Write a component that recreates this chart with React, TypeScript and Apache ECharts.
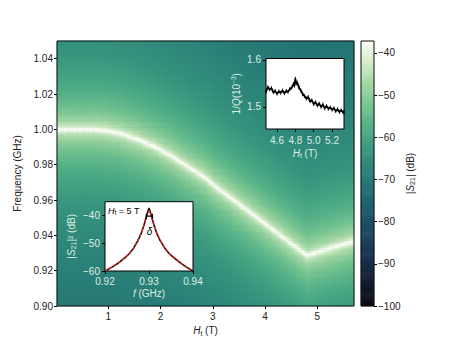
import React, { useEffect, useRef } from "react";
import * as echarts from "echarts";

const curveH = [0.0, 0.4, 0.76, 0.96, 1.27, 1.59, 1.91, 2.23, 2.55, 2.87, 3.05, 3.37, 3.69, 4.01, 4.33, 4.65, 4.81, 4.97, 5.28, 5.7];
const curveF = [1.0, 1.0, 1.0, 0.9994, 0.9975, 0.9941, 0.99, 0.9847, 0.9786, 0.9725, 0.9678, 0.9608, 0.9537, 0.9466, 0.9394, 0.9322, 0.9287, 0.9302, 0.9331, 0.9367];
// narrow core and broad glow of the resonance (half widths in GHz, peak levels in dB)
const coreWidth = 0.0008;
const corePeakDb = -36.8;
const glowWidth = 0.006;
const glowPeakDb = -46.8;
const floorDb = -80;

const hTicks = [1, 2, 3, 4, 5];
const fTicks = [0.9, 0.92, 0.94, 0.96, 0.98, 1.0, 1.02, 1.04];
const cbTicks = [-100, -90, -80, -70, -60, -50, -40];

// inset 1: 1/Q vs H_t
const qH = [4.48, 4.5, 4.52, 4.54, 4.56, 4.58, 4.6, 4.62, 4.64, 4.66, 4.68, 4.7, 4.72, 4.74, 4.76, 4.78, 4.79, 4.8, 4.81, 4.82, 4.84, 4.86, 4.88, 4.9, 4.92, 4.94, 4.96, 4.98, 5.0, 5.02, 5.04, 5.06, 5.08, 5.1, 5.12, 5.14, 5.16, 5.18, 5.2, 5.22, 5.24, 5.26, 5.28, 5.3, 5.32, 5.33];
const qV = [1.532, 1.542, 1.537, 1.54, 1.531, 1.534, 1.528, 1.533, 1.53, 1.535, 1.529, 1.534, 1.532, 1.538, 1.541, 1.549, 1.545, 1.56, 1.55, 1.552, 1.541, 1.535, 1.527, 1.523, 1.518, 1.521, 1.512, 1.514, 1.506, 1.51, 1.503, 1.507, 1.5, 1.505, 1.497, 1.502, 1.496, 1.499, 1.494, 1.497, 1.491, 1.495, 1.489, 1.493, 1.488, 1.49];
const qErr = 0.004;

// inset 2: |S21|^2 vs f at H_t = 5 T
const sF = [0.92, 0.9215, 0.923, 0.9245, 0.9255, 0.9265, 0.9275, 0.9283, 0.9289, 0.9294, 0.9297, 0.93, 0.9303, 0.9306, 0.9311, 0.9317, 0.9325, 0.9336, 0.9346, 0.9357, 0.9372, 0.9386, 0.94];
const sData = [-60.0, -58.7, -57.2, -55.3, -53.8, -51.8, -49.0, -46.2, -43.3, -40.4, -38.8, -37.4, -38.8, -40.4, -43.3, -46.2, -49.0, -51.8, -53.8, -55.3, -57.2, -58.7, -60.0];
const sFit = [-60.0, -58.6, -57.1, -55.2, -53.7, -51.7, -48.9, -46.1, -43.4, -40.7, -39.3, -38.3, -39.3, -40.7, -43.4, -46.1, -48.9, -51.7, -53.7, -55.2, -57.1, -58.6, -60.0];
const deltaF = [0.9294, 0.9308];
const deltaDb = -40.3;

const cmap = ["#0a0a10", "#121b2e", "#182d48", "#1b405c", "#1d5468", "#216a72", "#2a7f78", "#37957e", "#4fad86", "#73c390", "#a0d6a2", "#d2ecc8", "#fbfdf5"];

const H_MIN = 0.02, H_MAX = 5.7, F_MIN = 0.9, F_MAX = 1.05, DB_MIN = -100, DB_MAX = -37.2;
const NX = 130, NY = 150, NCB = 126;
const FONT = "Liberation Sans, Arial, sans-serif";
const LIGHT = "#dcefe2";

function interp(xs: number[], ys: number[], x: number) {
  if (x <= xs[0]) return ys[0];
  for (let i = 1; i < xs.length; i++) {
    if (x <= xs[i]) {
      const t = (x - xs[i - 1]) / (xs[i] - xs[i - 1]);
      return ys[i - 1] + t * (ys[i] - ys[i - 1]);
    }
  }
  return ys[ys.length - 1];
}

function lorAvg(g: number, fa: number, fb: number, f0: number) {
  return (g / (fb - fa)) * (Math.atan((fb - f0) / g) - Math.atan((fa - f0) / g));
}

function buildMap() {
  const dx = (H_MAX - H_MIN) / NX, dy = (F_MAX - F_MIN) / NY;
  const pc = Math.pow(10, corePeakDb / 10), pg = Math.pow(10, glowPeakDb / 10), pfl = Math.pow(10, floorDb / 10);
  const data: number[][] = [];
  for (let i = 0; i < NX; i++) {
    const h = H_MIN + (i + 0.5) * dx;
    const f0 = interp(curveH, curveF, h);
    for (let j = 0; j < NY; j++) {
      const fa = F_MIN + j * dy, fb = fa + dy;
      const p = pc * lorAvg(coreWidth, fa, fb, f0) + pg * lorAvg(glowWidth, fa, fb, f0) + pfl;
      data.push([i, j, Math.min(DB_MAX, 10 * Math.log10(p))]);
    }
  }
  return data;
}

const minus = (v: number, d = 0) => (v < 0 ? "\u2212" : "") + Math.abs(v).toFixed(d);

export default function App() {
  const ref = useRef<HTMLDivElement>(null);
  useEffect(() => {
    if (!ref.current) return;
    const chart = echarts.init(ref.current, undefined, { renderer: "svg" });
    const mapData = buildMap();
    const cbData: number[][] = [];
    for (let k = 0; k < NCB; k++) cbData.push([0, k, DB_MIN + ((k + 0.5) * (DB_MAX - DB_MIN)) / NCB]);

    const tick = (len = 3) => ({ show: true, length: len, lineStyle: { color: "#000", width: 1 } });
    const richSub = (color: string, size = 10) => ({
      i: { fontStyle: "italic", fontSize: size, color, fontFamily: FONT },
      s: { fontSize: size * 0.7, color, fontFamily: FONT, padding: [5, 0, 0, 0] },
      sup: { fontSize: size * 0.65, color, fontFamily: FONT, padding: [0, 0, 5, 0] },
      n: { fontSize: size, color, fontFamily: FONT },
    });

    const option: any = {
      animation: false,
      grid: [
        { left: 57, top: 41, width: 297, height: 265, show: false },
        { left: 57, top: 41, width: 297, height: 265, show: true, backgroundColor: "#216a72", borderWidth: 0 },
        { left: 361, top: 41, width: 13, height: 265, show: false },
        { left: 266, top: 58.5, width: 78, height: 70.5, show: true, backgroundColor: "#fff", borderColor: "#000", borderWidth: 1, z: 3 },
        { left: 105, top: 201.7, width: 88, height: 69.3, show: true, backgroundColor: "#fff", borderColor: "#000", borderWidth: 1, z: 3 },
      ],
      xAxis: [
        {
          type: "value", gridIndex: 0, min: H_MIN, max: H_MAX,
          axisLine: { show: false }, splitLine: { show: false },
          axisTick: { ...tick(3), customValues: hTicks },
          axisLabel: { customValues: hTicks, fontSize: 10, color: "#222", fontFamily: FONT, margin: 5 },
          name: "{i|H}{s|t}{n| (T)}", nameLocation: "middle", nameGap: 17,
          nameTextStyle: { fontSize: 10, color: "#222", fontFamily: FONT, rich: richSub("#222") },
        },
        { type: "category", gridIndex: 1, data: Array.from({ length: NX }, (_, i) => String(i)), show: false },
        { type: "category", gridIndex: 2, data: ["0"], show: false },
        {
          type: "value", gridIndex: 3, min: 4.48, max: 5.33, z: 5,
          axisLine: { show: false }, splitLine: { show: false },
          axisTick: { ...tick(3), customValues: [4.6, 4.8, 5.0, 5.2] },
          axisLabel: { customValues: [4.6, 4.8, 5.0, 5.2], formatter: (v: number) => v.toFixed(1), fontSize: 10, color: LIGHT, fontFamily: FONT, margin: 6 },
          name: "{i|H}{s|t}{n| (T)}", nameLocation: "middle", nameGap: 18,
          nameTextStyle: { fontSize: 10, color: LIGHT, fontFamily: FONT, rich: richSub(LIGHT) },
        },
        {
          type: "value", gridIndex: 4, min: 0.92, max: 0.94, z: 5,
          axisLine: { show: false }, splitLine: { show: false },
          axisTick: { ...tick(3), customValues: [0.92, 0.93, 0.94] },
          axisLabel: { customValues: [0.92, 0.93, 0.94], formatter: (v: number) => v.toFixed(2), fontSize: 10, color: LIGHT, fontFamily: FONT, margin: 5 },
          name: "{i|f}{n| (GHz)}", nameLocation: "middle", nameGap: 17,
          nameTextStyle: { fontSize: 10, color: LIGHT, fontFamily: FONT, rich: richSub(LIGHT) },
        },
      ],
      yAxis: [
        {
          type: "value", gridIndex: 0, min: F_MIN, max: F_MAX,
          axisLine: { show: false }, splitLine: { show: false },
          axisTick: { ...tick(3), customValues: fTicks },
          axisLabel: { customValues: fTicks, formatter: (v: number) => v.toFixed(2), fontSize: 10, color: "#222", fontFamily: FONT, margin: 4 },
          name: "Frequency (GHz)", nameLocation: "middle", nameGap: 28, nameRotate: 90,
          nameTextStyle: { fontSize: 10, color: "#222", fontFamily: FONT },
        },
        { type: "category", gridIndex: 1, data: Array.from({ length: NY }, (_, i) => String(i)), show: false },
        { type: "category", gridIndex: 2, data: Array.from({ length: NCB }, (_, i) => String(i)), show: false },
        {
          type: "value", gridIndex: 2, position: "right", min: DB_MIN, max: DB_MAX,
          axisLine: { show: false }, splitLine: { show: false },
          axisTick: { ...tick(3), customValues: cbTicks },
          axisLabel: { customValues: cbTicks, formatter: (v: number) => minus(v), fontSize: 10, color: "#222", fontFamily: FONT, margin: 4 },
          name: "|{i|S}{s|21}{n|| (dB)}", nameLocation: "middle", nameGap: 30, nameRotate: 90,
          nameTextStyle: { fontSize: 10, color: "#222", fontFamily: FONT, rich: richSub("#222") },
        },
        {
          type: "value", gridIndex: 3, min: 1.453, max: 1.603, z: 5,
          axisLine: { show: false }, splitLine: { show: false },
          axisTick: { ...tick(3), customValues: [1.5, 1.6] },
          axisLabel: { customValues: [1.5, 1.6], formatter: (v: number) => v.toFixed(1), fontSize: 10, color: LIGHT, fontFamily: FONT, margin: 5 },
          name: "{n|1/}{i|Q}{n|(10}{sup|\u22123}{n|)}", nameLocation: "middle", nameGap: 24, nameRotate: 90,
          nameTextStyle: { fontSize: 10, color: LIGHT, fontFamily: FONT, rich: richSub(LIGHT) },
        },
        {
          type: "value", gridIndex: 4, min: -60, max: -35.1, z: 5,
          axisLine: { show: false }, splitLine: { show: false },
          axisTick: { ...tick(3), customValues: [-60, -50, -40] },
          axisLabel: { customValues: [-60, -50, -40], formatter: (v: number) => minus(v), fontSize: 10, color: LIGHT, fontFamily: FONT, margin: 5 },
          name: "{n||}{i|S}{s|21}{n||\u00b2 (dB)}", nameLocation: "middle", nameGap: 28, nameRotate: 90,
          nameTextStyle: { fontSize: 10, color: LIGHT, fontFamily: FONT, rich: richSub(LIGHT) },
        },
      ],
      visualMap: {
        type: "continuous", show: false, min: DB_MIN, max: DB_MAX, dimension: 2,
        seriesIndex: [0, 1], inRange: { color: cmap },
      },
      series: [
        {
          type: "heatmap", xAxisIndex: 1, yAxisIndex: 1, data: mapData, z: 1,
          progressive: 0, silent: true, emphasis: { disabled: true }, itemStyle: { borderWidth: 0 },
        },
        {
          type: "heatmap", xAxisIndex: 2, yAxisIndex: 2, data: cbData, z: 1,
          progressive: 0, silent: true, emphasis: { disabled: true }, itemStyle: { borderWidth: 0 },
        },
        {
          type: "line", xAxisIndex: 3, yAxisIndex: 4, z: 6, silent: true, symbol: "none",
          data: qH.map((h, i) => [h, qV[i]]), lineStyle: { color: "#000", width: 1.8 },
        },
        {
          type: "custom", xAxisIndex: 3, yAxisIndex: 4, z: 6, silent: true,
          data: qH.map((h, i) => [h, qV[i]]),
          renderItem: (params: any, api: any) => {
            const x = api.value(0), y = api.value(1);
            const p1 = api.coord([x, y - qErr]);
            const p2 = api.coord([x, y + qErr]);
            return { type: "line", shape: { x1: p1[0], y1: p1[1], x2: p2[0], y2: p2[1] }, style: { stroke: "#000", lineWidth: 1 } };
          },
        },
        {
          type: "line", xAxisIndex: 4, yAxisIndex: 5, z: 6, silent: true, symbol: "none",
          data: sF.map((f, i) => [f, sData[i]]), lineStyle: { color: "#111", width: 1.6 },
        },
        {
          type: "line", xAxisIndex: 4, yAxisIndex: 5, z: 7, silent: true, symbol: "none",
          data: sF.map((f, i) => [f, sFit[i]]), lineStyle: { color: "#e8231c", width: 1.4, type: [3, 2] },
        },
        {
          type: "line", xAxisIndex: 4, yAxisIndex: 5, z: 8, silent: true, symbol: "none",
          data: [
            [deltaF[0], deltaDb + 0.9], [deltaF[0], deltaDb - 0.9], [deltaF[0], deltaDb],
            [deltaF[1], deltaDb], [deltaF[1], deltaDb + 0.9], [deltaF[1], deltaDb - 0.9],
          ],
          lineStyle: { color: "#000", width: 1.2 },
        },
      ],
      graphic: [
        { type: "rect", z: 100, silent: true, shape: { x: 57, y: 41, width: 297, height: 265 }, style: { fill: "none", stroke: "#111", lineWidth: 1 } },
        { type: "rect", z: 100, silent: true, shape: { x: 361, y: 41, width: 13, height: 265 }, style: { fill: "none", stroke: "#111", lineWidth: 1 } },
        {
          type: "text", z: 100, silent: true, x: 108, y: 205,
          style: {
            text: "{i|H}{s|t}{n| = 5 T}", fill: "#000",
            rich: {
              i: { fontStyle: "italic", fontSize: 9, fill: "#000", fontFamily: FONT },
              s: { fontSize: 6.5, fill: "#000", fontFamily: FONT, padding: [4, 0, 0, 0] },
              n: { fontSize: 9, fill: "#000", fontFamily: FONT },
            },
          },
        },
        {
          type: "text", z: 100, silent: true, x: 149.5, y: 231.5,
          style: { text: "\u03b4", fill: "#000", fontSize: 10, fontStyle: "italic", fontFamily: FONT, align: "center", verticalAlign: "middle" },
        },
      ],
    };
    chart.setOption(option);
    return () => chart.dispose();
  }, []);
  return <div ref={ref} style={{ position: "absolute", left: 0, top: 0, width: 460, height: 345 }} />;
}
